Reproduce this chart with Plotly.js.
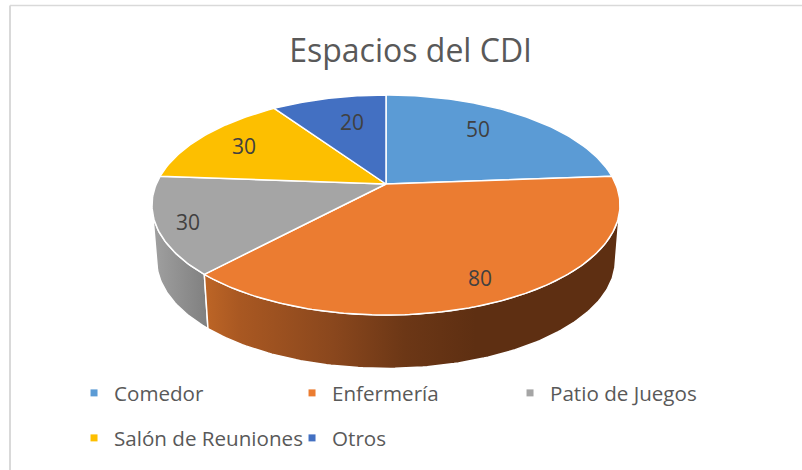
<!DOCTYPE html>
<html><head><meta charset="utf-8">
<script src="https://cdn.plot.ly/plotly-3.0.1.min.js"></script>
<style>html,body{margin:0;padding:0;background:#fff}#c{width:802px;height:470px}</style>
</head><body><div id="c"></div>
<script>
const categories = ["Comedor","Enfermería","Patio de Juegos","Salón de Reuniones","Otros"];
const values = [50,80,30,30,20];
const colors = ["#5B9BD5","#EB7C31","#A5A5A5","#FDBF00","#4370C2"];
const wallColors = {
  1: [[0,"#BD6526"],[0.12,"#A95822"],[0.45,"#8A471D"],[0.7,"#6C3716"],[0.95,"#5E2F12"],[1,"#5E2F12"]],
  2: [[0,"#A0A0A0"],[1,"#7E7E7E"]]
};
const wallRanges = {1:[205,490],2:[153,210]};

// Projection of the tilted disc onto the page (page pixels, perspective k)
const cx=386, cy=184, R=229.7, B=106, k=0.191, depth=56, shrink=0.98;
function topRim(a){const u=Math.sin(a),v=Math.cos(a),d=1+k*v;return [cx+R*u/d,cy-B*v/d];}
function lowRim(a){const u=Math.sin(a),v=Math.cos(a),d=1+k*v;return [cx+shrink*R*u/d,cy+depth-shrink*B*v/d];}
const total=values.reduce((s,v)=>s+v,0);
const angle=c=>c/total*2*Math.PI;
function arc(f,a0,a1){const n=Math.max(6,Math.ceil((a1-a0)*60)),p=[];for(let i=0;i<=n;i++)p.push(f(a0+(a1-a0)*i/n));return p;}

const traces=[];let cum=0;const spans=values.map(v=>{const s=[angle(cum),angle(cum+v)];cum+=v;return s;});
// side walls, clipped to the silhouette of the disc (widest points of the rim)
const sideR=Math.acos(-k), sideL=2*Math.PI-sideR;
[2,1].forEach(i=>{
  const a0=Math.max(spans[i][0],sideR), a1=Math.min(spans[i][1],sideL);
  const pts=arc(topRim,a0,a1).concat(arc(lowRim,a0,a1).reverse());pts.push(pts[0]);
  traces.push({type:"scatter",mode:"lines",x:pts.map(p=>p[0]),y:pts.map(p=>p[1]),fill:"toself",
    line:{color:"#fff",width:1.5},showlegend:false,hoverinfo:"skip",
    fillgradient:{type:"horizontal",colorscale:wallColors[i],start:wallRanges[i][0],stop:wallRanges[i][1]}});
});
// top faces
spans.forEach(([a0,a1],i)=>{
  const pts=[[cx,cy]].concat(arc(topRim,a0,a1));pts.push([cx,cy]);
  traces.push({type:"scatter",mode:"lines",x:pts.map(p=>p[0]),y:pts.map(p=>p[1]),fill:"toself",fillcolor:colors[i],
    line:{color:"#fff",width:1.5},showlegend:false,name:categories[i],hoverinfo:"name"});
});
// legend entries
categories.forEach((c,i)=>{
  traces.push({type:"scatter",mode:"markers",x:[-50],y:[-50],name:c,legend:i<3?"legend":"legend2",
    marker:{symbol:"square",size:7,color:colors[i]},hoverinfo:"skip"});
});
const labelX=[478,480,188,244,352], labelY=[129,278,222,146,122];
const legendBase={orientation:"h",xanchor:"left",yanchor:"middle",x:0.0923,entrywidth:173,entrywidthmode:"pixels",
  font:{family:"Open Sans",size:20.6,color:"#595959"},bgcolor:"rgba(0,0,0,0)",itemclick:false,itemdoubleclick:false,traceorder:"normal"};
const frame=[[10,470,10,5.5,2],[10,5.5,802,5.5,1.5]];
Plotly.newPlot("c",traces,{
  width:802,height:470,margin:{l:0,r:0,t:0,b:0},paper_bgcolor:"#fff",plot_bgcolor:"#fff",
  xaxis:{range:[0,802],visible:false,fixedrange:true},
  yaxis:{range:[470,0],visible:false,fixedrange:true},
  title:{text:"Espacios del CDI",font:{family:"Open Sans",size:32,color:"#595959"},x:0.512,xanchor:"center",y:0.892,yanchor:"middle"},
  legend:Object.assign({},legendBase,{y:1-393/470}),
  legend2:Object.assign({},legendBase,{y:1-438/470}),
  shapes:frame.map(f=>({type:"line",xref:"x",yref:"y",x0:f[0],y0:f[1],x1:f[2],y1:f[3],line:{color:"#D9D9D9",width:f[4]}})),
  annotations:values.map((v,i)=>({x:labelX[i],y:labelY[i],xref:"x",yref:"y",text:String(v),showarrow:false,
    font:{family:"Open Sans",size:21,color:"#404040"},xanchor:"center",yanchor:"middle"}))
},{displayModeBar:false,staticPlot:true});
</script></body></html>
